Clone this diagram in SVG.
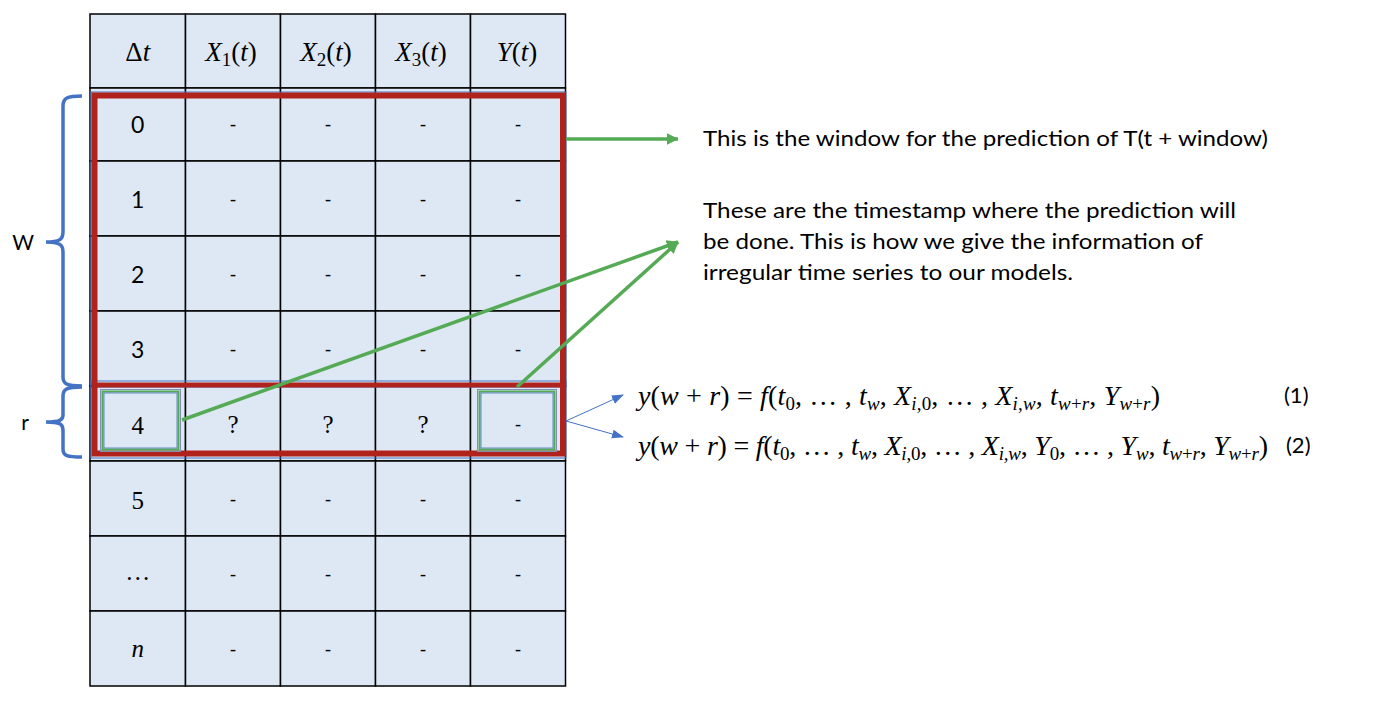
<svg xmlns="http://www.w3.org/2000/svg" width="1400" height="711" viewBox="0 0 1400 711">
<style>
.cell{fill:#DEE8F4;stroke:#000;stroke-width:1.5}
.sans{font-family:Lato,"Open Sans","Liberation Sans",sans-serif;font-size:23px;fill:#000}
.ser{font-family:"Liberation Serif","DejaVu Serif",serif;font-size:25px;fill:#000}
.hd{font-family:"Liberation Serif","DejaVu Serif",serif;font-size:27px;fill:#000}
.i{font-style:italic}
.note{font-family:Lato,"Open Sans","Liberation Sans",sans-serif;font-size:21px;fill:#000}
.eq{font-family:"Liberation Serif","DejaVu Serif",serif;font-size:28px;fill:#000}
.brace{fill:none;stroke:#4472C4;stroke-width:3.5}
.g{stroke:#55AA55;stroke-width:3.5;fill:none}
.b{stroke:#4472C4;stroke-width:1;fill:none}
.red{fill:none;stroke:#B0221C;stroke-width:6}
</style>
<defs>
<marker id="ga" markerWidth="4" markerHeight="4" refX="3.2" refY="2" orient="auto" markerUnits="strokeWidth"><path d="M0,0.3 L3.4,2 L0,3.7 z" fill="#55AA55"/></marker>
<marker id="ba" markerWidth="12" markerHeight="10" refX="11" refY="5" orient="auto" markerUnits="userSpaceOnUse"><path d="M0,0.5 L12,5 L0,9.5 z" fill="#4472C4"/></marker>
</defs>
<rect width="1400" height="711" fill="#fff"/>

<g id="table">
<g id="header">
<rect class="cell" x="90" y="14" width="95.5" height="74"/>
<rect class="cell" x="185.5" y="14" width="95" height="74"/>
<rect class="cell" x="280.5" y="14" width="95" height="74"/>
<rect class="cell" x="375.5" y="14" width="95" height="74"/>
<rect class="cell" x="470.5" y="14" width="95" height="74"/>
<text class="hd" x="137.75" y="61" text-anchor="middle">Δ<tspan class="i">t</tspan></text>
<text class="hd" x="231" y="61" text-anchor="middle"><tspan class="i">X</tspan><tspan font-size="19" dy="5">1</tspan><tspan dy="-5">(</tspan><tspan class="i">t</tspan>)</text>
<text class="hd" x="326" y="61" text-anchor="middle"><tspan class="i">X</tspan><tspan font-size="19" dy="5">2</tspan><tspan dy="-5">(</tspan><tspan class="i">t</tspan>)</text>
<text class="hd" x="421" y="61" text-anchor="middle"><tspan class="i">X</tspan><tspan font-size="19" dy="5">3</tspan><tspan dy="-5">(</tspan><tspan class="i">t</tspan>)</text>
<text class="hd" x="517" y="61" text-anchor="middle"><tspan class="i">Y</tspan>(<tspan class="i">t</tspan>)</text>
</g>
<g id="rows">
<rect class="cell" x="90" y="88" width="95.5" height="73"/><rect class="cell" x="185.5" y="88" width="95" height="73"/><rect class="cell" x="280.5" y="88" width="95" height="73"/><rect class="cell" x="375.5" y="88" width="95" height="73"/><rect class="cell" x="470.5" y="88" width="95" height="73"/>
<rect class="cell" x="90" y="161" width="95.5" height="75"/><rect class="cell" x="185.5" y="161" width="95" height="75"/><rect class="cell" x="280.5" y="161" width="95" height="75"/><rect class="cell" x="375.5" y="161" width="95" height="75"/><rect class="cell" x="470.5" y="161" width="95" height="75"/>
<rect class="cell" x="90" y="236" width="95.5" height="75"/><rect class="cell" x="185.5" y="236" width="95" height="75"/><rect class="cell" x="280.5" y="236" width="95" height="75"/><rect class="cell" x="375.5" y="236" width="95" height="75"/><rect class="cell" x="470.5" y="236" width="95" height="75"/>
<rect class="cell" x="90" y="311" width="95.5" height="75"/><rect class="cell" x="185.5" y="311" width="95" height="75"/><rect class="cell" x="280.5" y="311" width="95" height="75"/><rect class="cell" x="375.5" y="311" width="95" height="75"/><rect class="cell" x="470.5" y="311" width="95" height="75"/>
<rect class="cell" x="90" y="386" width="95.5" height="75"/><rect class="cell" x="185.5" y="386" width="95" height="75"/><rect class="cell" x="280.5" y="386" width="95" height="75"/><rect class="cell" x="375.5" y="386" width="95" height="75"/><rect class="cell" x="470.5" y="386" width="95" height="75"/>
<rect class="cell" x="90" y="461" width="95.5" height="75"/><rect class="cell" x="185.5" y="461" width="95" height="75"/><rect class="cell" x="280.5" y="461" width="95" height="75"/><rect class="cell" x="375.5" y="461" width="95" height="75"/><rect class="cell" x="470.5" y="461" width="95" height="75"/>
<rect class="cell" x="90" y="536" width="95.5" height="75"/><rect class="cell" x="185.5" y="536" width="95" height="75"/><rect class="cell" x="280.5" y="536" width="95" height="75"/><rect class="cell" x="375.5" y="536" width="95" height="75"/><rect class="cell" x="470.5" y="536" width="95" height="75"/>
<rect class="cell" x="90" y="611" width="95.5" height="75"/><rect class="cell" x="185.5" y="611" width="95" height="75"/><rect class="cell" x="280.5" y="611" width="95" height="75"/><rect class="cell" x="375.5" y="611" width="95" height="75"/><rect class="cell" x="470.5" y="611" width="95" height="75"/>
</g>
<g id="rowlabels">
<text class="sans" x="137.75" y="133" text-anchor="middle">0</text>
<text class="sans" x="137.75" y="208" text-anchor="middle">1</text>
<text class="sans" x="137.75" y="283" text-anchor="middle">2</text>
<text class="sans" x="137.75" y="358" text-anchor="middle">3</text>
<text class="ser" x="137.75" y="434" text-anchor="middle">4</text>
<text class="ser" x="137.75" y="509" text-anchor="middle">5</text>
<text class="ser" x="137.75" y="580" text-anchor="middle" font-size="15">…</text>
<text class="ser i" x="137.75" y="657" text-anchor="middle">n</text>
</g>
<g id="values" font-family="Lato, Open Sans, sans-serif" font-size="19" text-anchor="middle">
<text x="233" y="131">-</text><text x="328" y="131">-</text><text x="423" y="131">-</text><text x="518" y="131">-</text>
<text x="233" y="206">-</text><text x="328" y="206">-</text><text x="423" y="206">-</text><text x="518" y="206">-</text>
<text x="233" y="281">-</text><text x="328" y="281">-</text><text x="423" y="281">-</text><text x="518" y="281">-</text>
<text x="233" y="356">-</text><text x="328" y="356">-</text><text x="423" y="356">-</text><text x="518" y="356">-</text>
<text x="518" y="431">-</text>
<text x="233" y="506">-</text><text x="328" y="506">-</text><text x="423" y="506">-</text><text x="518" y="506">-</text>
<text x="233" y="581">-</text><text x="328" y="581">-</text><text x="423" y="581">-</text><text x="518" y="581">-</text>
<text x="233" y="656">-</text><text x="328" y="656">-</text><text x="423" y="656">-</text><text x="518" y="656">-</text>
</g>
<g id="unknowns" class="ser" text-anchor="middle">
<text x="233" y="433">?</text><text x="328" y="433">?</text><text x="423" y="433">?</text>
</g>
</g>

<g id="window-box">
<rect class="b" x="91" y="92" width="475" height="295"/>
<rect class="b" x="91" y="381" width="475" height="77"/>
<rect class="red" x="94.5" y="95.5" width="468.5" height="358"/>
<line x1="91.5" y1="385" x2="566" y2="385" stroke="#B0221C" stroke-width="5"/>
</g>

<g id="highlight-cells">
<rect x="100.5" y="389.5" width="80" height="62" fill="none" stroke="#7F8FB5" stroke-width="1"/>
<rect x="102.5" y="391.5" width="76" height="58" fill="none" stroke="#55AA55" stroke-width="2"/>
<rect x="104" y="393" width="73" height="55" fill="none" stroke="#4472C4" stroke-width="0.8"/>
<rect x="477.5" y="389.5" width="79" height="62" fill="none" stroke="#7F8FB5" stroke-width="1"/>
<rect x="479.5" y="391.5" width="75" height="58" fill="none" stroke="#55AA55" stroke-width="2"/>
<rect x="481" y="393" width="72" height="55" fill="none" stroke="#4472C4" stroke-width="0.8"/>
</g>

<g id="braces">
<path class="brace" d="M82,96 C67,96 63,98 63,106 L63,232 C63,239 60,242 46,242 C60,242 63,245 63,252 L63,377 C63,384 67,386 82,386"/>
<path class="brace" d="M82,387 C67,387 63,389 63,396 L63,415 C63,420 60,422 46,422 C60,422 63,424 63,430 L63,449 C63,456 67,457 82,457"/>
<text class="note" x="23" y="250" text-anchor="middle" font-size="22">W</text>
<text class="note" x="25" y="430" text-anchor="middle" font-size="22">r</text>
</g>

<g id="connectors">
<line class="g" x1="566" y1="139" x2="678" y2="139" marker-end="url(#ga)"/>
<line class="g" x1="182" y1="420" x2="678" y2="242" marker-end="url(#ga)"/>
<line class="g" x1="517" y1="387" x2="678" y2="242" marker-end="url(#ga)"/>
<line class="b" x1="566" y1="421" x2="623" y2="395" marker-end="url(#ba)"/>
<line class="b" x1="566" y1="421" x2="623" y2="437" marker-end="url(#ba)"/>
</g>

<g id="notes">
<text class="note" x="703" y="146" textLength="565" lengthAdjust="spacingAndGlyphs">This is the window for the prediction of T(t + window)</text>
<text class="note" x="703" y="218" textLength="533" lengthAdjust="spacingAndGlyphs">These are the timestamp where the prediction will</text>
<text class="note" x="703" y="249" textLength="500" lengthAdjust="spacingAndGlyphs">be done. This is how we give the information of</text>
<text class="note" x="703" y="280" textLength="370" lengthAdjust="spacingAndGlyphs">irregular time series to our models.</text>
</g>

<g id="equations" class="eq">
<text x="638" y="405" textLength="522" lengthAdjust="spacing"><tspan class="i">y</tspan>(<tspan class="i">w</tspan> + <tspan class="i">r</tspan>) = <tspan class="i">f</tspan>(<tspan class="i">t</tspan><tspan font-size="19" dy="5">0</tspan><tspan dy="-5">, … , </tspan><tspan class="i">t</tspan><tspan font-size="19" dy="5" class="i">w</tspan><tspan dy="-5">, </tspan><tspan class="i">X</tspan><tspan font-size="19" dy="5"><tspan class="i">i</tspan>,0</tspan><tspan dy="-5">, … , </tspan><tspan class="i">X</tspan><tspan font-size="19" dy="5" class="i">i,w</tspan><tspan dy="-5">, </tspan><tspan class="i">t</tspan><tspan font-size="19" dy="5"><tspan class="i">w</tspan>+<tspan class="i">r</tspan></tspan><tspan dy="-5">, </tspan><tspan class="i">Y</tspan><tspan font-size="19" dy="5"><tspan class="i">w</tspan>+<tspan class="i">r</tspan></tspan><tspan dy="-5">)</tspan></text>
<text x="1284" y="403" font-family="Lato, Open Sans, sans-serif" font-size="22">(1)</text>
<text x="638" y="455" textLength="630" lengthAdjust="spacing"><tspan class="i">y</tspan>(<tspan class="i">w</tspan> + <tspan class="i">r</tspan>) = <tspan class="i">f</tspan>(<tspan class="i">t</tspan><tspan font-size="19" dy="5">0</tspan><tspan dy="-5">, … , </tspan><tspan class="i">t</tspan><tspan font-size="19" dy="5" class="i">w</tspan><tspan dy="-5">, </tspan><tspan class="i">X</tspan><tspan font-size="19" dy="5"><tspan class="i">i</tspan>,0</tspan><tspan dy="-5">, … , </tspan><tspan class="i">X</tspan><tspan font-size="19" dy="5" class="i">i,w</tspan><tspan dy="-5">, </tspan><tspan class="i">Y</tspan><tspan font-size="19" dy="5">0</tspan><tspan dy="-5">, … , </tspan><tspan class="i">Y</tspan><tspan font-size="19" dy="5" class="i">w</tspan><tspan dy="-5">, </tspan><tspan class="i">t</tspan><tspan font-size="19" dy="5"><tspan class="i">w</tspan>+<tspan class="i">r</tspan></tspan><tspan dy="-5">, </tspan><tspan class="i">Y</tspan><tspan font-size="19" dy="5"><tspan class="i">w</tspan>+<tspan class="i">r</tspan></tspan><tspan dy="-5">)</tspan></text>
<text x="1286" y="453" font-family="Lato, Open Sans, sans-serif" font-size="22">(2)</text>
</g>
</svg>
